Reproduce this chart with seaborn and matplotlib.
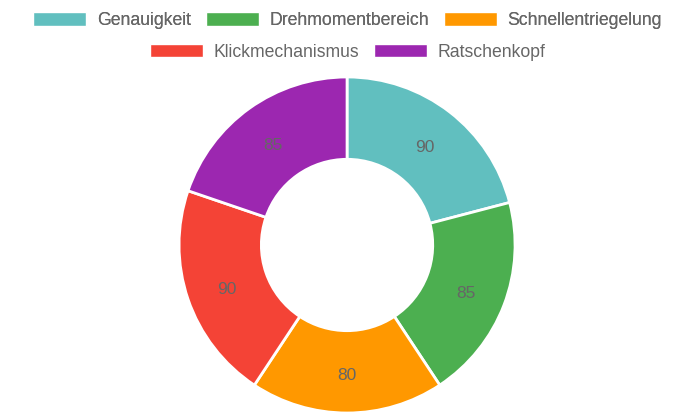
import matplotlib
matplotlib.use("Agg")
import matplotlib.pyplot as plt
import seaborn as sns
import numpy as np
from matplotlib.patches import Patch

categories = ["Genauigkeit", "Drehmomentbereich", "Schnellentriegelung",
              "Klickmechanismus", "Ratschenkopf"]
values = [90, 85, 80, 90, 85]
colors = ["#61BFBF", "#4CAF50", "#FF9800", "#F44336", "#9C27B0"]

sns.set_theme(style="white")
plt.rcParams["font.family"] = ["Liberation Sans", "DejaVu Sans"]

fig = plt.figure(figsize=(6.95, 4.17), dpi=100)
ax = fig.add_axes([0.2576, 0.0096, 0.4835, 0.8058])

wedges, texts = ax.pie(
    values,
    colors=colors,
    startangle=90,
    counterclock=False,
    radius=1,
    wedgeprops=dict(width=0.49, edgecolor="white", linewidth=2),
)
# value labels at the middle of the ring
for w, v in zip(wedges, values):
    ang = np.deg2rad((w.theta1 + w.theta2) / 2)
    r = 0.755
    ax.text(r * np.cos(ang), r * np.sin(ang) - 0.02, str(v), ha="center", va="center",
            fontsize=12.5, color="#666666")
ax.set_xlim(-1.0, 1.0)
ax.set_ylim(-1.0, 1.0)
ax.set_aspect("equal")
ax.axis("off")

handles = [Patch(facecolor=c, edgecolor="white", label=l) for c, l in zip(colors, categories)]
kw = dict(frameon=False, fontsize=12.7, handlelength=3.0, handleheight=0.8,
          handletextpad=0.6, columnspacing=0.85, labelcolor="#666666")
leg1 = fig.legend(handles=handles[:3], ncol=3, loc="center", bbox_to_anchor=(0.5, 0.95), **kw)
fig.add_artist(leg1)
fig.legend(handles=handles[3:], ncol=2, loc="center", bbox_to_anchor=(0.5, 0.875), **kw)

fig.savefig("out.png", dpi=100)
